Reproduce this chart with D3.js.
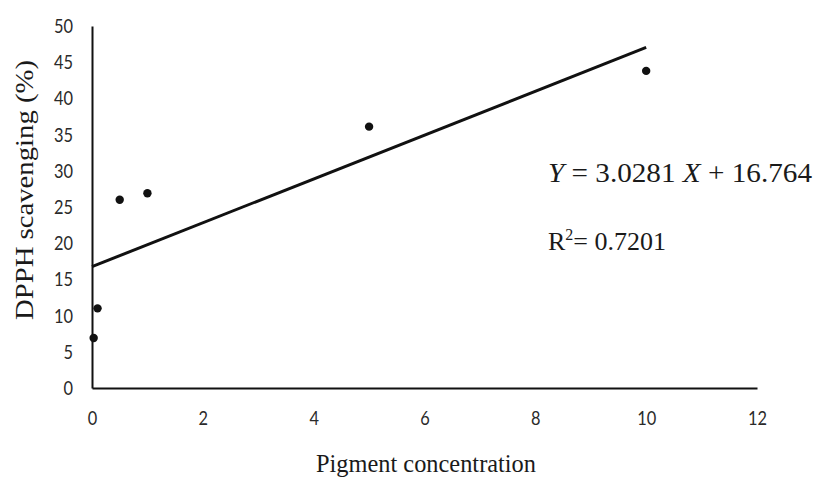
<!DOCTYPE html>
<html>
<head>
<meta charset="utf-8">
<script src="https://cdn.jsdelivr.net/npm/d3@7"></script>
<style>
  html, body { margin: 0; padding: 0; background: #fff; }
  svg { display: block; }
  .tick text { font-family: Lato, "Open Sans", sans-serif; font-size: 20px; fill: #2a2a2a; }
</style>
</head>
<body>
<svg id="chart" width="817" height="479"></svg>
<script>
// Pigment concentration vs. DPPH scavenging (%)
const concentration = [0.03, 0.1, 0.5, 1, 5, 10];
const scavenging = [6.9, 11.0, 26.0, 26.9, 36.1, 43.8];
const xTicks = [0, 2, 4, 6, 8, 10, 12];
const yTicks = [0, 5, 10, 15, 20, 25, 30, 35, 40, 45, 50];

// Linear fit as printed on the chart
const slope = 3.0281;
const intercept = 16.764;
const rSquared = "0.7201";
const fitRange = [0, 10];

const svg = d3.select("#chart");

const x = d3.scaleLinear().domain([0, 12]).range([92, 757]);
const y = d3.scaleLinear().domain([0, 50]).range([388, 26]);

// Axes: plain black lines, no tick marks
const xAxis = svg.append("g")
  .attr("transform", `translate(0,${y(0)})`)
  .call(d3.axisBottom(x).tickValues(xTicks).tickSize(0).tickPadding(23).tickSizeOuter(0));
const yAxis = svg.append("g")
  .attr("transform", `translate(${x(0)},0)`)
  .call(d3.axisLeft(y).tickValues(yTicks).tickSize(0).tickPadding(19).tickSizeOuter(0));
[xAxis, yAxis].forEach(g => g.select(".domain").attr("stroke", "#111").attr("stroke-width", 2));

// Narrow, tall tick digits
svg.selectAll(".tick text")
  .attr("textLength", function () { return this.textContent.length * 9.5; })
  .attr("lengthAdjust", "spacingAndGlyphs");

// Trend line
const line = d3.line().x(d => x(d)).y(d => y(slope * d + intercept));
svg.append("path")
  .datum(fitRange)
  .attr("d", line)
  .attr("fill", "none")
  .attr("stroke", "#111")
  .attr("stroke-width", 3);

// Measured points
svg.append("g")
  .selectAll("circle")
  .data(concentration.map((c, i) => [c, scavenging[i]]))
  .join("circle")
  .attr("cx", d => x(d[0]))
  .attr("cy", d => y(d[1]))
  .attr("r", 4.2)
  .attr("fill", "#111");

// Axis titles
svg.append("text")
  .attr("transform", "translate(33,190) rotate(-90)")
  .attr("text-anchor", "middle")
  .attr("textLength", 260)
  .attr("lengthAdjust", "spacingAndGlyphs")
  .style("font-family", "'Liberation Serif', 'Times New Roman', serif")
  .style("font-size", "26px")
  .style("fill", "#1a1a1a")
  .text("DPPH scavenging (%)");

svg.append("text")
  .attr("x", 426)
  .attr("y", 472)
  .attr("text-anchor", "middle")
  .attr("textLength", 220)
  .attr("lengthAdjust", "spacingAndGlyphs")
  .style("font-family", "'Liberation Serif', 'Times New Roman', serif")
  .style("font-size", "25px")
  .style("fill", "#1a1a1a")
  .text("Pigment concentration");

// Regression equation
const eq = svg.append("text")
  .attr("x", 548)
  .attr("y", 182)
  .attr("textLength", 264)
  .attr("lengthAdjust", "spacingAndGlyphs")
  .style("font-family", "'Liberation Serif', 'Times New Roman', serif")
  .style("font-size", "28px")
  .style("fill", "#1a1a1a");
eq.append("tspan").style("font-style", "italic").text("Y");
eq.append("tspan").text(` = ${slope} `);
eq.append("tspan").style("font-style", "italic").text("X");
eq.append("tspan").text(` + ${intercept}`);

const r2 = svg.append("text")
  .attr("x", 548)
  .attr("y", 250)
  .style("font-family", "'Liberation Serif', 'Times New Roman', serif")
  .style("font-size", "26px")
  .style("fill", "#1a1a1a");
r2.append("tspan").text("R");
r2.append("tspan").attr("dy", -10).style("font-size", "16px").text("2");
r2.append("tspan").attr("dy", 10).text(`= ${rSquared}`);
</script>
</body>
</html>
